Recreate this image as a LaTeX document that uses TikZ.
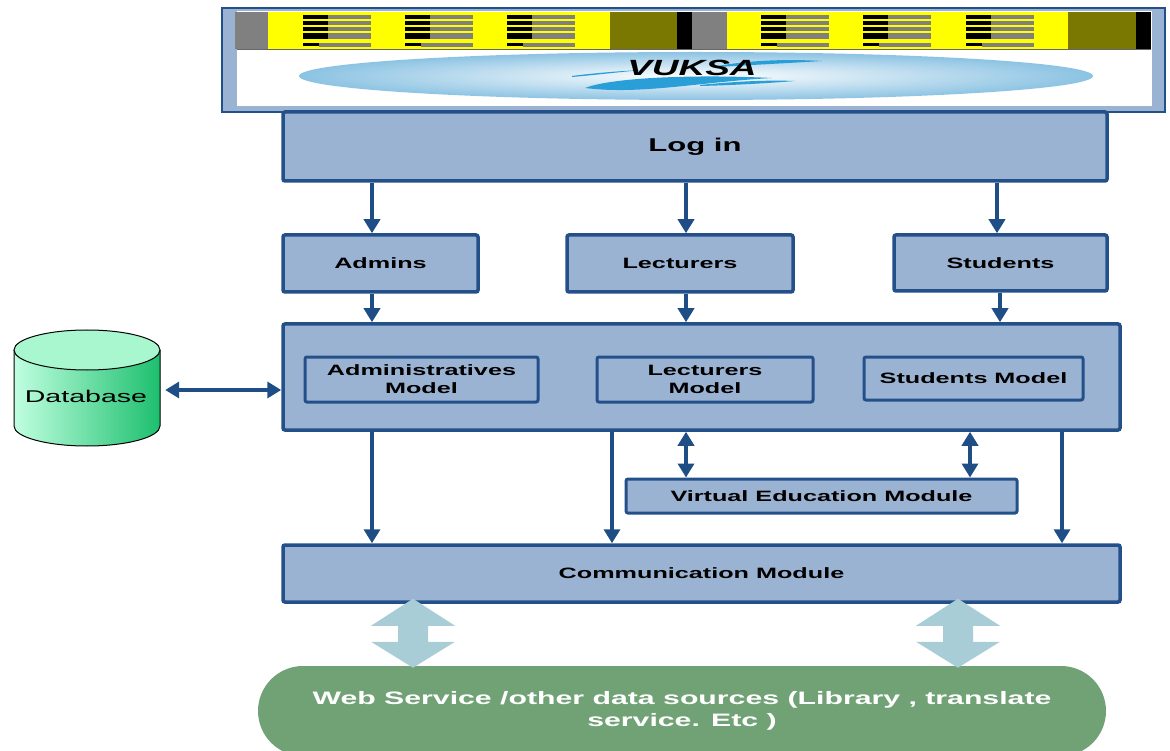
\documentclass[tikz,border=0pt]{standalone}
\usepackage{fontspec}
\setmainfont{Liberation Sans}[FakeStretch=1.68]
\usetikzlibrary{arrows.meta,calc}

\definecolor{boxfill}{HTML}{9BB3D3}
\definecolor{boxline}{HTML}{24508A}
\definecolor{arrowc}{HTML}{1F4E86}
\definecolor{fatarrow}{HTML}{A8CDD7}
\definecolor{webgreen}{HTML}{70A275}
\definecolor{bannergray}{HTML}{808080}
\definecolor{bannerylw}{HTML}{FFFF00}
\definecolor{bannerchk}{HTML}{7A7800}
\definecolor{dbtop}{HTML}{A8F7CF}
\definecolor{dbleft}{HTML}{C0FFE0}
\definecolor{dbright}{HTML}{1DBF6E}
\definecolor{swoosh}{HTML}{2A9ED6}
\definecolor{ellblue}{HTML}{8CC3E3}

\tikzset{
  box/.style={draw=boxline, fill=boxfill, line width=3.5pt, rounded corners=2pt,
    inner sep=0pt, align=center, font=\bfseries\fontsize{15}{18}\selectfont},
  modelbox/.style={box, line width=3pt},
  arr/.style={draw=arrowc, line width=4pt, -{Triangle[width=16pt,length=14pt]}},
  darr/.style={draw=arrowc, line width=4pt,
    {Triangle[width=16pt,length=14pt]}-{Triangle[width=16pt,length=14pt]}},
}

\begin{document}
\begin{tikzpicture}[x=1pt,y=-1pt]
\useasboundingbox (0,0) rectangle (1170,751);

% ---------- title banner ----------
\node[draw=boxline, fill=boxfill, line width=2.5pt, inner sep=0pt,
      minimum width=943, minimum height=104] (header) at (693.5,60) {};
\fill[white] (237,11) rectangle (1152,106);

% striped band along the top
\fill[bannergray] (235,12) rectangle (268,49);
\fill[bannerylw] (268,12) rectangle (610,49);
\fill[bannerchk] (610,12) rectangle (677,49);
\fill[black] (677,12) rectangle (692,49);
\fill[bannergray] (692,12) rectangle (727,49);
\fill[bannerylw] (727,12) rectangle (1068,49);
\fill[bannerchk] (1068,12) rectangle (1136,49);
\fill[black] (1136,12) rectangle (1151,49);
\foreach \gx in {303,405,507,761,863,966}{
  \foreach \ya/\yb in {15/19.5,21/25.5,27/31.5,33.5/39}{
    \fill[black] (\gx,\ya) rectangle (\gx+25,\yb);
    \fill[bannergray] (\gx+25,\ya) rectangle (\gx+68,\yb);
  }
  \fill[bannergray] (\gx+16,43) rectangle (\gx+68,47);
  \fill[black] (\gx,43) rectangle (\gx+16,46);
}
\draw[black!60, line width=0.8pt] (237,49.5) -- (1151,49.5);

% logo ellipse with swooshes
\shade[inner color=white, outer color=ellblue] (696,76) ellipse [x radius=397, y radius=24];
\fill[swoosh] (585,88) .. controls (610,78) and (690,74) .. (772,78)
  .. controls (700,82) and (640,95) .. (585,88) -- cycle;
\fill[swoosh] (700,85) .. controls (740,81) and (770,80) .. (795,81)
  .. controls (770,83) and (740,85) .. (700,86) -- cycle;
\fill[swoosh] (718,66) .. controls (750,60) and (790,59) .. (822,61)
  .. controls (790,63) and (750,65) .. (718,67) -- cycle;
\fill[swoosh] (572,76) .. controls (595,73) and (620,71) .. (642,70)
  .. controls (620,72) and (595,75) .. (572,77) -- cycle;
\node[font=\bfseries\itshape\fontsize{22}{22}\selectfont, inner sep=0pt] (title) at (692,68) {VUKSA};

% ---------- main blocks ----------
\node[box, minimum width=824, minimum height=69, font=\bfseries\fontsize{18.5}{20}\selectfont]
  (login) at (695,146.5) {Log in};

\node[box, minimum width=195, minimum height=57] (admins) at (380.5,263.5) {Admins};
\node[box, minimum width=226, minimum height=57] (lecturers) at (680,263.5) {Lecturers};
\node[box, minimum width=213, minimum height=56] (students) at (1000.5,263) {Students};

\node[box, minimum width=837, minimum height=106] (core) at (701.5,377) {};
\node[modelbox, minimum width=233, minimum height=45] (adminmodel) at (421.5,379.5) {Administratives\\Model};
\node[modelbox, minimum width=216, minimum height=45] (lectmodel) at (705,379.5) {Lecturers\\Model};
\node[modelbox, minimum width=219, minimum height=43] (studmodel) at (973.5,378.5) {Students Model};

\node[modelbox, minimum width=391, minimum height=34] (vem) at (821.5,496) {Virtual Education Module};
\node[box, minimum width=837, minimum height=57] (comm) at (701.5,573.5) {Communication Module};

\node[fill=webgreen, rounded corners=45pt, minimum width=848, minimum height=90, inner sep=0pt,
      text=white, align=center, font=\bfseries\fontsize{18}{22}\selectfont]
  (web) at (682,711) {Web Service /other data sources (Library , translate\\service. Etc )};

% ---------- database cylinder ----------
\shade[left color=dbleft, right color=dbright]
  (14,350) -- (14,426) arc[start angle=180, end angle=0, x radius=73, y radius=20] -- (160,350) -- cycle;
\draw[line width=1pt] (14,350) -- (14,426) arc[start angle=180, end angle=0, x radius=73, y radius=20] -- (160,350);
\draw[fill=dbtop, line width=1pt] (87,350) ellipse [x radius=73, y radius=20];
\node[minimum width=146, minimum height=116, inner sep=0pt, font=\fontsize{17}{18}\selectfont]
  (db) at (86,396) {Database};

% ---------- connectors ----------
\foreach \ax/\tgt in {372/admins,686/lecturers,997/students}
  \draw[arr] (\ax,0 |- login.south) -- (\ax,0 |- \tgt.north);
\foreach \ax/\src in {372/admins,686/lecturers,1000/students}
  \draw[arr] (\ax,0 |- \src.south) -- (\ax,0 |- core.north);
\foreach \ax in {372,612,1062}
  \draw[arr] (\ax,0 |- core.south) -- (\ax,0 |- comm.north);
\foreach \ax in {686,970}
  \draw[darr] (\ax,0 |- core.south) -- (\ax,0 |- vem.north);
\draw[darr] ($(db.east)+(6,-6)$) -- ($(core.west |- db.east)+(0,-6)$);

% wide two-way arrows between the communication module and the outside sources
\foreach \fx in {413,958}
  \fill[fatarrow] ($(\fx,0 |- comm.south)+(0,-5)$) -- ++(42,27) -- ++(-27,0) -- ++(0,16)
    -- ++(27,0) -- ++(-42,26) -- ++(-42,-26) -- ++(27,0) -- ++(0,-16) -- ++(-27,0) -- cycle;

\end{tikzpicture}
\end{document}
